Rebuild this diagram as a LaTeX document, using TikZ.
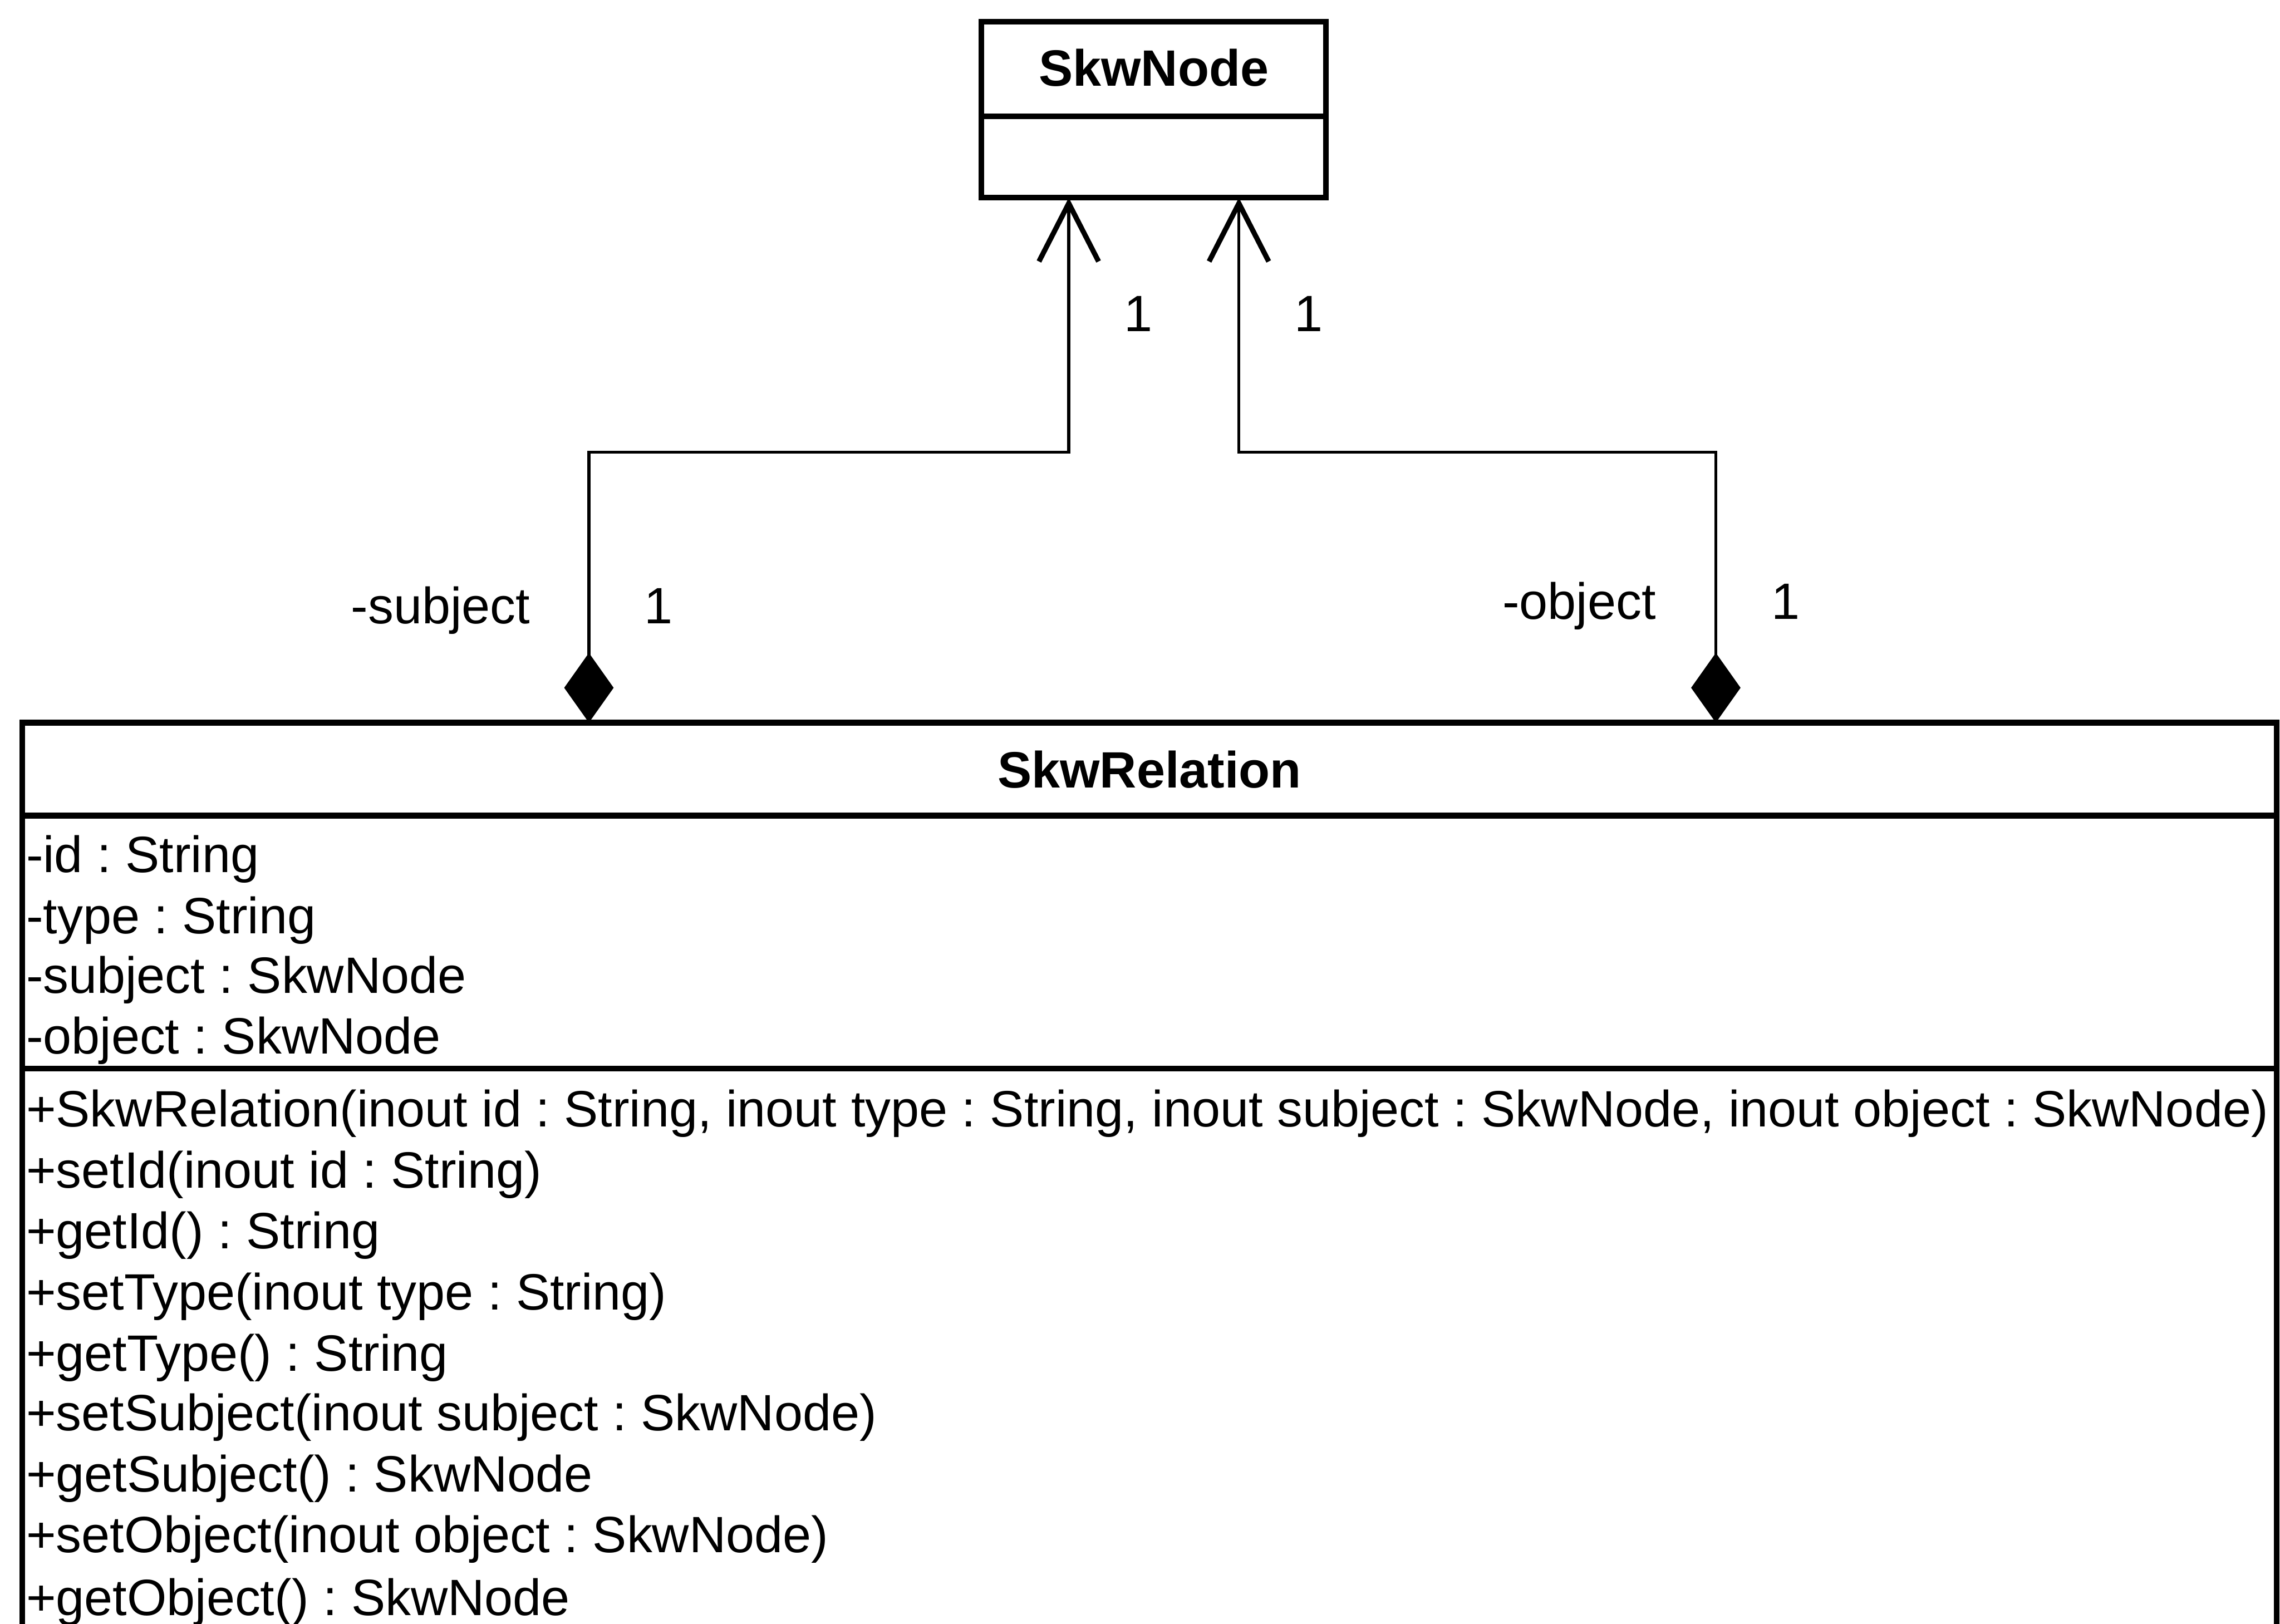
\documentclass[tikz,border=0pt]{standalone}
\usepackage{fontspec}
\setmainfont{Liberation Sans}
\usetikzlibrary{arrows.meta}
\frenchspacing
\begin{document}
\begin{tikzpicture}[x=0.02cm,y=-0.02cm,
  every node/.style={inner sep=0pt,outer sep=0pt,font=\fontsize{20}{24}\selectfont},
  classbox/.style={draw,line width=2.2pt},
  rule/.style={line width=2.2pt},
  title/.style={anchor=base,font=\fontsize{20}{24}\selectfont\bfseries},
  member/.style={anchor=base west},
  lbl/.style={anchor=base},
  assoc/.style={line width=1.2pt,line join=miter,
    {Diamond[length=0.96cm,width=0.68cm]}-{Straight Barb[length=0.8cm,width=0.82cm,line width=2pt]}}]

\useasboundingbox (0,0) rectangle (1568,1117);

% SkwNode class
\node[classbox,minimum width=4.74cm,minimum height=2.42cm] (skwnode) at (793.5,75.5) {};
\node[title] (skwnodename) at (793.5,59) {SkwNode};
\coordinate (nodediv) at (0,80);
\draw[rule] (skwnode.west |- nodediv) -- (skwnode.east |- nodediv);

% SkwRelation class (runs off the lower edge)
\node[classbox,minimum width=31.02cm,minimum height=12.86cm] (rel) at (790.5,818.5) {};
\node[title] (relname) at (790.5,542) {SkwRelation};
\coordinate (reldivA) at (0,561);
\coordinate (reldivB) at (0,735);
\draw[rule] (rel.west |- reldivA) -- (rel.east |- reldivA);
\draw[rule] (rel.west |- reldivB) -- (rel.east |- reldivB);

% attributes
\node[member] (a1) at (18,600) {-id : String};
\node[member] (a2) at (18,642) {-type : String};
\node[member] (a3) at (18,683) {-subject : SkwNode};
\node[member] (a4) at (18,725) {-object : SkwNode};

% operations
\node[member] (o1) at (18,775) {+SkwRelation(inout id : String, inout type : String, inout subject : SkwNode, inout object : SkwNode)};
\node[member] (o2) at (18,817) {+setId(inout id : String)};
\node[member] (o3) at (18,859) {+getId() : String};
\node[member] (o4) at (18,901) {+setType(inout type : String)};
\node[member] (o5) at (18,943) {+getType() : String};
\node[member] (o6) at (18,984) {+setSubject(inout subject : SkwNode)};
\node[member] (o7) at (18,1026) {+getSubject() : SkwNode};
\node[member] (o8) at (18,1068) {+setObject(inout object : SkwNode)};
\node[member] (o9) at (18,1111) {+getObject() : SkwNode};

% composition: subject
\coordinate (subjBend) at (405,311);
\coordinate (subjTop) at (735,311);
\draw[assoc] (subjBend |- rel.north) -- (subjBend) -- (subjTop) -- (subjTop |- skwnode.south);

% composition: object
\coordinate (objBend) at (1180,311);
\coordinate (objTop) at (852,311);
\draw[assoc] (objBend |- rel.north) -- (objBend) -- (objTop) -- (objTop |- skwnode.south);

% role names and multiplicities
\node[lbl] (subjMultTop) at (783,228) {1};
\node[lbl] (objMultTop) at (900,228) {1};
\node[lbl] (subjRole) at (303,429) {-subject};
\node[lbl] (subjMult) at (453,429) {1};
\node[lbl] (objRole) at (1086,426) {-object};
\node[lbl] (objMult) at (1228,426) {1};

\end{tikzpicture}
\end{document}
